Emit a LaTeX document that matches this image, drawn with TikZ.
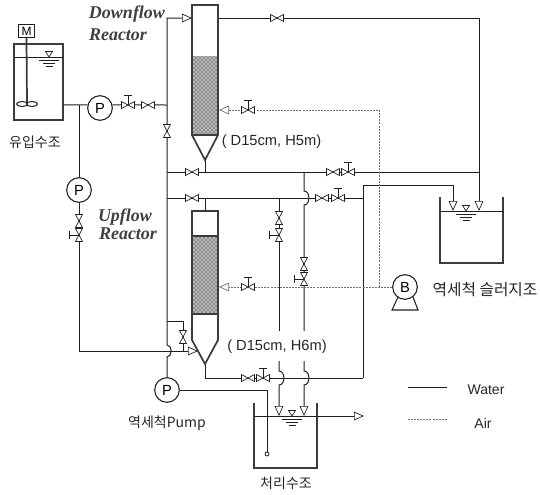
\documentclass[tikz,border=0pt]{standalone}
\usepackage{fontspec}
\setmainfont{Liberation Sans}
\newfontfamily\krfont{Noto Sans CJK KR}
\newfontfamily\reactorfont{Liberation Serif}
\usetikzlibrary{arrows.meta,patterns}
\begin{document}
\begin{tikzpicture}[x=0.75pt,y=-0.75pt]
            \definecolor{water_color}{RGB}{30,30,30}
            \definecolor{air_color}{RGB}{110,110,110}
            \definecolor{wall_color}{RGB}{60,60,60}
            \tikzstyle{water} = [line width=0.75pt, water_color]
            \tikzstyle{air} = [line width=0.7pt, air_color, dash pattern=on 1.5pt off 0.8pt]
            \tikzstyle{wall} = [line width=1.3pt, wall_color]
            \tikzstyle{arr} = [-{Triangle[fill=white,length=7.5pt,width=6.5pt,line width=0.5pt]}]
            \tikzstyle{jump} = [out=0,in=0,looseness=1.2]
            \tikzstyle{pump} = [draw=water_color, line width=0.8pt, fill=white, shape=circle, inner sep=0pt, minimum size=18.5pt, font=\fontsize{11}{11}\selectfont]
            \tikzstyle{ann} = [draw=none, fill=none, text=black!85, inner sep=0pt, font=\fontsize{10.5}{11}\selectfont]
            \tikzstyle{krann} = [ann, font=\fontsize{10.5}{11}\krfont]
            \tikzstyle{title} = [ann, text=black!75, font=\fontsize{13.5}{14}\reactorfont\bfseries\itshape]
            \tikzset{
              gatev/.pic={\draw[line width=0.5pt, draw=water_color, fill=white] (-6.5,-3.5) -- (6.5,3.5) -- (6.5,-3.5) -- (-6.5,3.5) -- cycle;},
              globev/.pic={\draw[line width=0.5pt, draw=water_color, fill=white] (-6.5,-3.5) -- (6.5,3.5) -- (6.5,-3.5) -- (-6.5,3.5) -- cycle;
                \draw[line width=0.7pt, water_color] (0,0) -- (0,-9.5) (-4,-9.5) -- (4,-9.5);},
              level/.pic={\draw[line width=0.5pt, draw=water_color, fill=white] (0,0) -- (-3.5,-5.5) -- (3.5,-5.5) -- cycle;
                \draw[line width=0.7pt, water_color] (-10,3) -- (10,3) (-6,6.5) -- (6,6.5) (-3.5,9.5) -- (3.5,9.5);}
            }
            \useasboundingbox (0,0) rectangle (540,494);
            % junctions
            \coordinate (t1out) at (63,105);
            \coordinate (j105a) at (79,105);
            \coordinate (j105b) at (167,105);
            \coordinate (c1) at (167,357);
            \coordinate (c2) at (167,345);
            \coordinate (c3) at (167,18);
            \coordinate (r1in) at (192,18);
            \coordinate (r1out) at (218,18);
            \coordinate (topr) at (479,18);
            \coordinate (st1) at (479,211);
            \coordinate (st2) at (453,211);
            \coordinate (r1tip) at (205,160);
            \coordinate (r2top) at (205,211);
            \coordinate (r2tip) at (205,364);
            \coordinate (r2in) at (198,351);
            \coordinate (r1air) at (219,110);
            \coordinate (r2air) at (219,287);
            \coordinate (j172a) at (167,172);
            \coordinate (j172b) at (205,172);
            \coordinate (j172c) at (304,172);
            \coordinate (j172d) at (479,172);
            \coordinate (j198a) at (167,198);
            \coordinate (j198b) at (205,198);
            \coordinate (j198c) at (279,198);
            \coordinate (j198d) at (363,198);
            \coordinate (j185a) at (363,185);
            \coordinate (j378a) at (205,378);
            \coordinate (j378b) at (363,378);
            \coordinate (j321a) at (167,321);
            \coordinate (j321b) at (183,321);
            \coordinate (j351a) at (183,351);
            \coordinate (a1) at (304,191);
            \coordinate (a2) at (304,205);
            \coordinate (a3) at (304,331);
            \coordinate (a4) at (304,361);
            \coordinate (a5) at (304,371);
            \coordinate (a6) at (304,385);
            \coordinate (a7) at (304,416);
            \coordinate (b1) at (279,331);
            \coordinate (b2) at (279,361);
            \coordinate (b3) at (279,371);
            \coordinate (b4) at (279,385);
            \coordinate (b5) at (279,416);
            \coordinate (outl) at (317,416);
            \coordinate (outr) at (364,416);
            \coordinate (airc) at (379,287);
            \coordinate (airt) at (379,110);
            \coordinate (lgw1) at (408,387);
            \coordinate (lgw2) at (447,387);
            \coordinate (lga1) at (408,419);
            \coordinate (lga2) at (447,419);
            % pumps
            \node[pump] (pA) at (100,108) {P};
            \node[pump] (pB) at (79,190) {P};
            \node[pump] (pC) at (167,390) {P};
            \draw[line width=0.8pt, water_color] (398,297) -- (392,310) -- (418,310) -- (413,297);
            \node[pump] (pD) at (405,287) {B};
            \node[draw=water_color, fill=white, line width=0.8pt, inner sep=0pt, minimum width=11.5pt, minimum height=9.5pt, font=\fontsize{9}{9}\selectfont] (motor) at (26.5,31) {M};
            \node[draw=water_color, line width=0.6pt, fill=white, shape=circle, inner sep=0pt, minimum size=3pt] (suct) at (267,454) {};
            % influent tank
            \draw[wall] (14,44) rectangle (63,120);
            \draw[water] (14,57) -- (63,57);
            \coordinate (shaft) at (27,104);
            \draw[wall] (motor.south) -- (shaft);
            \draw[water] (22,104) ellipse [x radius=5.5, y radius=2.5];
            \draw[water] (32,104) ellipse [x radius=5.5, y radius=2.5];
            \pic at (49,57) {level};
            % water lines
            \draw[water] (t1out) -- (pA.166);
            \draw[water] (pA.14) -- (j105b);
            \draw[water] (j105a) -- (pB.north);
            \draw[water,arr] (pB.south) |- (r2in);
            \draw[water,arr] (pC.north) -- (c1) to[jump] (c2) -- (c3) -- (r1in);
            \draw[water,arr] (r1out) -- (topr) -- (st1);
            \draw[water] (j172a) -- (j172d);
            \draw[water] (r1tip) -- (j172b);
            \draw[water] (j198a) -- (j198d);
            \draw[water] (j198b) -- (r2top);
            \draw[water] (j198c) -- (b1);
            \draw[water] (j172c) -- (a1) to[jump] (a2) -- (a3);
            \draw[water] (r2tip) -- (j378a) -- (j378b);
            \draw[water,arr] (j378b) -- (j185a) -| (st2);
            \draw[water] (j321a) -- (j321b) -- (j351a);
            \draw[water,arr] (b2) -- (b3) to[jump] (b4) -- (b5);
            \draw[water,arr] (a4) -- (a5) to[jump] (a6) -- (a7);
            \draw[water] (pC.east) -| (suct.north);
            \draw[water,arr] (outl) -- (outr);
            % air lines
            \draw[air,arr] (pD.west) -- (r2air);
            \draw[air,arr] (airc) -- (airt) -- (r1air);
            % reactors
            \fill[gray!55] (192,56) rectangle (218,135);
            \fill[pattern=crosshatch dots, pattern color=black] (192,56) rectangle (218,135);
            \draw[wall] (192,135) -- (192,5) -- (218,5) -- (218,135) -- (r1tip) -- cycle;
            \draw[wall] (192,135) -- (218,135);
            \fill[gray!55] (192,236) rectangle (218,314);
            \fill[pattern=crosshatch dots, pattern color=black] (192,236) rectangle (218,314);
            \draw[wall] (192,211) rectangle (218,236);
            \draw[wall] (192,236) -- (192,340) -- (r2tip) -- (218,340) -- (218,236);
            \draw[wall] (192,314) -- (218,314);
            % sludge and treated water tanks
            \draw[wall] (440,197) -- (440,263) -- (503,263) -- (503,197);
            \draw[water] (440,211) -- (503,211);
            \pic at (466,211) {level};
            \draw[wall] (254,403) -- (254,468) -- (317,468) -- (317,403);
            \draw[water] (254,416) -- (317,416);
            \pic at (292,416) {level};
            % valves
            \pic at (128,105) {globev};
            \pic at (148,105) {gatev};
            \pic[rotate=90] at (79,221) {gatev};
            \pic[rotate=90] at (79,235) {globev};
            \pic[rotate=90] at (167,131) {gatev};
            \pic at (277,18) {gatev};
            \pic at (192,172) {gatev};
            \pic at (192,198) {gatev};
            \pic at (333,172) {gatev};
            \pic at (348,172) {globev};
            \pic at (322,198) {gatev};
            \pic at (338,198) {globev};
            \pic[rotate=90] at (279,218) {gatev};
            \pic[rotate=90] at (279,235) {globev};
            \pic[rotate=90] at (304,264) {gatev};
            \pic[rotate=90] at (304,279) {globev};
            \pic[rotate=90] at (183,337) {gatev};
            \pic at (248,378) {gatev};
            \pic at (263,378) {globev};
            \pic at (248,110) {globev};
            \pic at (248,287) {globev};
            % legend
            \draw[water] (lgw1) -- (lgw2);
            \draw[air] (lga1) -- (lga2);
            % labels
            \node[title] (t1) at (127,14) {Downflow};
            \node[title] (t2) at (118,35) {Reactor};
            \node[title] (t3) at (125,217) {Upflow};
            \node[title] (t4) at (128,234) {Reactor};
            \node[krann] (l1) at (35,142) {유입수조};
            \node[ann, font=\fontsize{11}{12}\selectfont] (l2) at (271.5,142) {( D15cm, H5m)};
            \node[ann, font=\fontsize{11}{12}\selectfont] (l3) at (277,347) {( D15cm, H6m)};
            \node[krann] (l4) at (167,423) {역세척Pump};
            \node[krann, font=\fontsize{11.8}{12}\krfont] (l5) at (485,290) {역세척 슬러지조};
            \node[krann] (l6) at (286,483) {처리수조};
            \node[ann] (l7) at (486,390) {Water};
            \node[ann] (l8) at (483,423) {Air};
        \end{tikzpicture}
\end{document}
